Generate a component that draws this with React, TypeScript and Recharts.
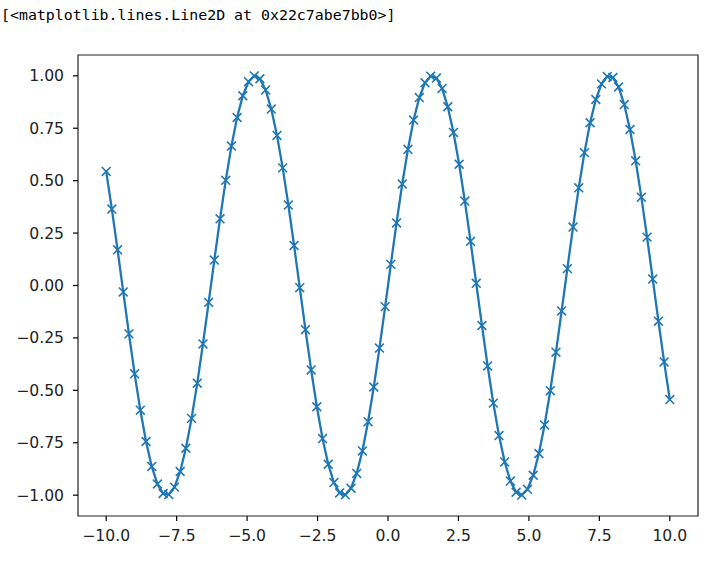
import React from 'react';
import { LineChart, Line, XAxis, YAxis, ReferenceArea } from 'recharts';

// sample positions (100 points between -10 and 10)
const xs = [
    -10.0, -9.798, -9.596, -9.394, -9.192, -8.99, -8.788, -8.586, -8.384, -8.182,
    -7.98, -7.778, -7.576, -7.374, -7.172, -6.97, -6.768, -6.566, -6.364, -6.162,
    -5.96, -5.758, -5.556, -5.354, -5.152, -4.949, -4.747, -4.545, -4.343, -4.141,
    -3.939, -3.737, -3.535, -3.333, -3.131, -2.929, -2.727, -2.525, -2.323, -2.121,
    -1.919, -1.717, -1.515, -1.313, -1.111, -0.909, -0.707, -0.505, -0.303, -0.101,
    0.101, 0.303, 0.505, 0.707, 0.909, 1.111, 1.313, 1.515, 1.717, 1.919,
    2.121, 2.323, 2.525, 2.727, 2.929, 3.131, 3.333, 3.535, 3.737, 3.939,
    4.141, 4.343, 4.545, 4.747, 4.949, 5.152, 5.354, 5.556, 5.758, 5.96,
    6.162, 6.364, 6.566, 6.768, 6.97, 7.172, 7.374, 7.576, 7.778, 7.98,
    8.182, 8.384, 8.586, 8.788, 8.99, 9.192, 9.394, 9.596, 9.798, 10.0,
];

const ys = [
    0.544, 0.3646, 0.1703, -0.0308, -0.2308, -0.4213, -0.5947, -0.7439, -0.8629, -0.9467,
    -0.9921, -0.9971, -0.9615, -0.8869, -0.7761, -0.6338, -0.4658, -0.2787, -0.0804, 0.1213,
    0.318, 0.5017, 0.6651, 0.8014, 0.9051, 0.972, 0.9994, 0.9861, 0.9327, 0.8414,
    0.7158, 0.5611, 0.3837, 0.1906, -0.0103, -0.2107, -0.4026, -0.5781, -0.73, -0.8523,
    -0.9399, -0.9893, -0.9985, -0.967, -0.8962, -0.7889, -0.6496, -0.4839, -0.2984, -0.1008,
    0.1008, 0.2984, 0.4839, 0.6496, 0.7889, 0.8962, 0.967, 0.9985, 0.9893, 0.9399,
    0.8523, 0.73, 0.5781, 0.4026, 0.2107, 0.0103, -0.1906, -0.3837, -0.5611, -0.7158,
    -0.8414, -0.9327, -0.9861, -0.9994, -0.972, -0.9051, -0.8014, -0.6651, -0.5017, -0.318,
    -0.1213, 0.0804, 0.2787, 0.4658, 0.6338, 0.7761, 0.8869, 0.9615, 0.9971, 0.9921,
    0.9467, 0.8629, 0.7439, 0.5947, 0.4213, 0.2308, 0.0308, -0.1703, -0.3646, -0.544,
];

const xTicks = [-10, -7.5, -5, -2.5, 0, 2.5, 5, 7.5, 10];
const yTicks = [-1, -0.75, -0.5, -0.25, 0, 0.25, 0.5, 0.75, 1];

const data = xs.map((x, i) => ({ x, y: ys[i] }));

const BLUE = '#1f77b4';
const tickStyle = { fill: '#222', fontSize: 15.6, fontFamily: 'DejaVu Sans' };
const fmt = (d: number) => (v: number) => v.toFixed(d).replace('-', '\u2212');

const XMarker = (props: any) => {
    const { cx, cy, index } = props;
    const r = 4.4;
    return (
        <path
            key={index}
            d={`M${cx - r},${cy - r}L${cx + r},${cy + r}M${cx + r},${cy - r}L${cx - r},${cy + r}`}
            stroke={BLUE}
            strokeWidth={1.6}
            fill="none"
        />
    );
};

export default function App() {
    return (
        <div style={{ position: 'absolute', left: 0, top: 0, width: 717, height: 561, background: '#fff' }}>
            <div
                style={{
                    position: 'absolute',
                    left: 1,
                    top: 6,
                    fontFamily: 'DejaVu Sans Mono',
                    fontSize: 14.9,
                    color: '#000',
                    whiteSpace: 'pre',
                }}
            >
                {'[<matplotlib.lines.Line2D at 0x22c7abe7bb0>]'}
            </div>
            <LineChart width={717} height={561} data={data} margin={{ top: 55, right: 19, left: 0, bottom: 0 }}>
                <XAxis
                    type="number"
                    dataKey="x"
                    domain={[-11, 11]}
                    ticks={xTicks}
                    tickFormatter={fmt(1)}
                    height={45}
                    tick={tickStyle}
                    tickSize={5}
                    tickMargin={9}
                    axisLine={false}
                    tickLine={{ stroke: '#000', strokeWidth: 1.2 }}
                />
                <YAxis
                    type="number"
                    domain={[-1.0993, 1.0993]}
                    ticks={yTicks}
                    tickFormatter={fmt(2)}
                    width={78}
                    tick={tickStyle}
                    tickSize={5}
                    tickMargin={9}
                    axisLine={false}
                    tickLine={{ stroke: '#000', strokeWidth: 1.2 }}
                />
                <ReferenceArea
                    x1={-11}
                    x2={11}
                    y1={-1.0993}
                    y2={1.0993}
                    fill="none"
                    stroke="#222"
                    strokeWidth={1.2}
                    ifOverflow="visible"
                />
                <Line
                    type="linear"
                    dataKey="y"
                    stroke={BLUE}
                    strokeWidth={2.3}
                    dot={XMarker}
                    activeDot={false}
                    isAnimationActive={false}
                />
            </LineChart>
        </div>
    );
}
